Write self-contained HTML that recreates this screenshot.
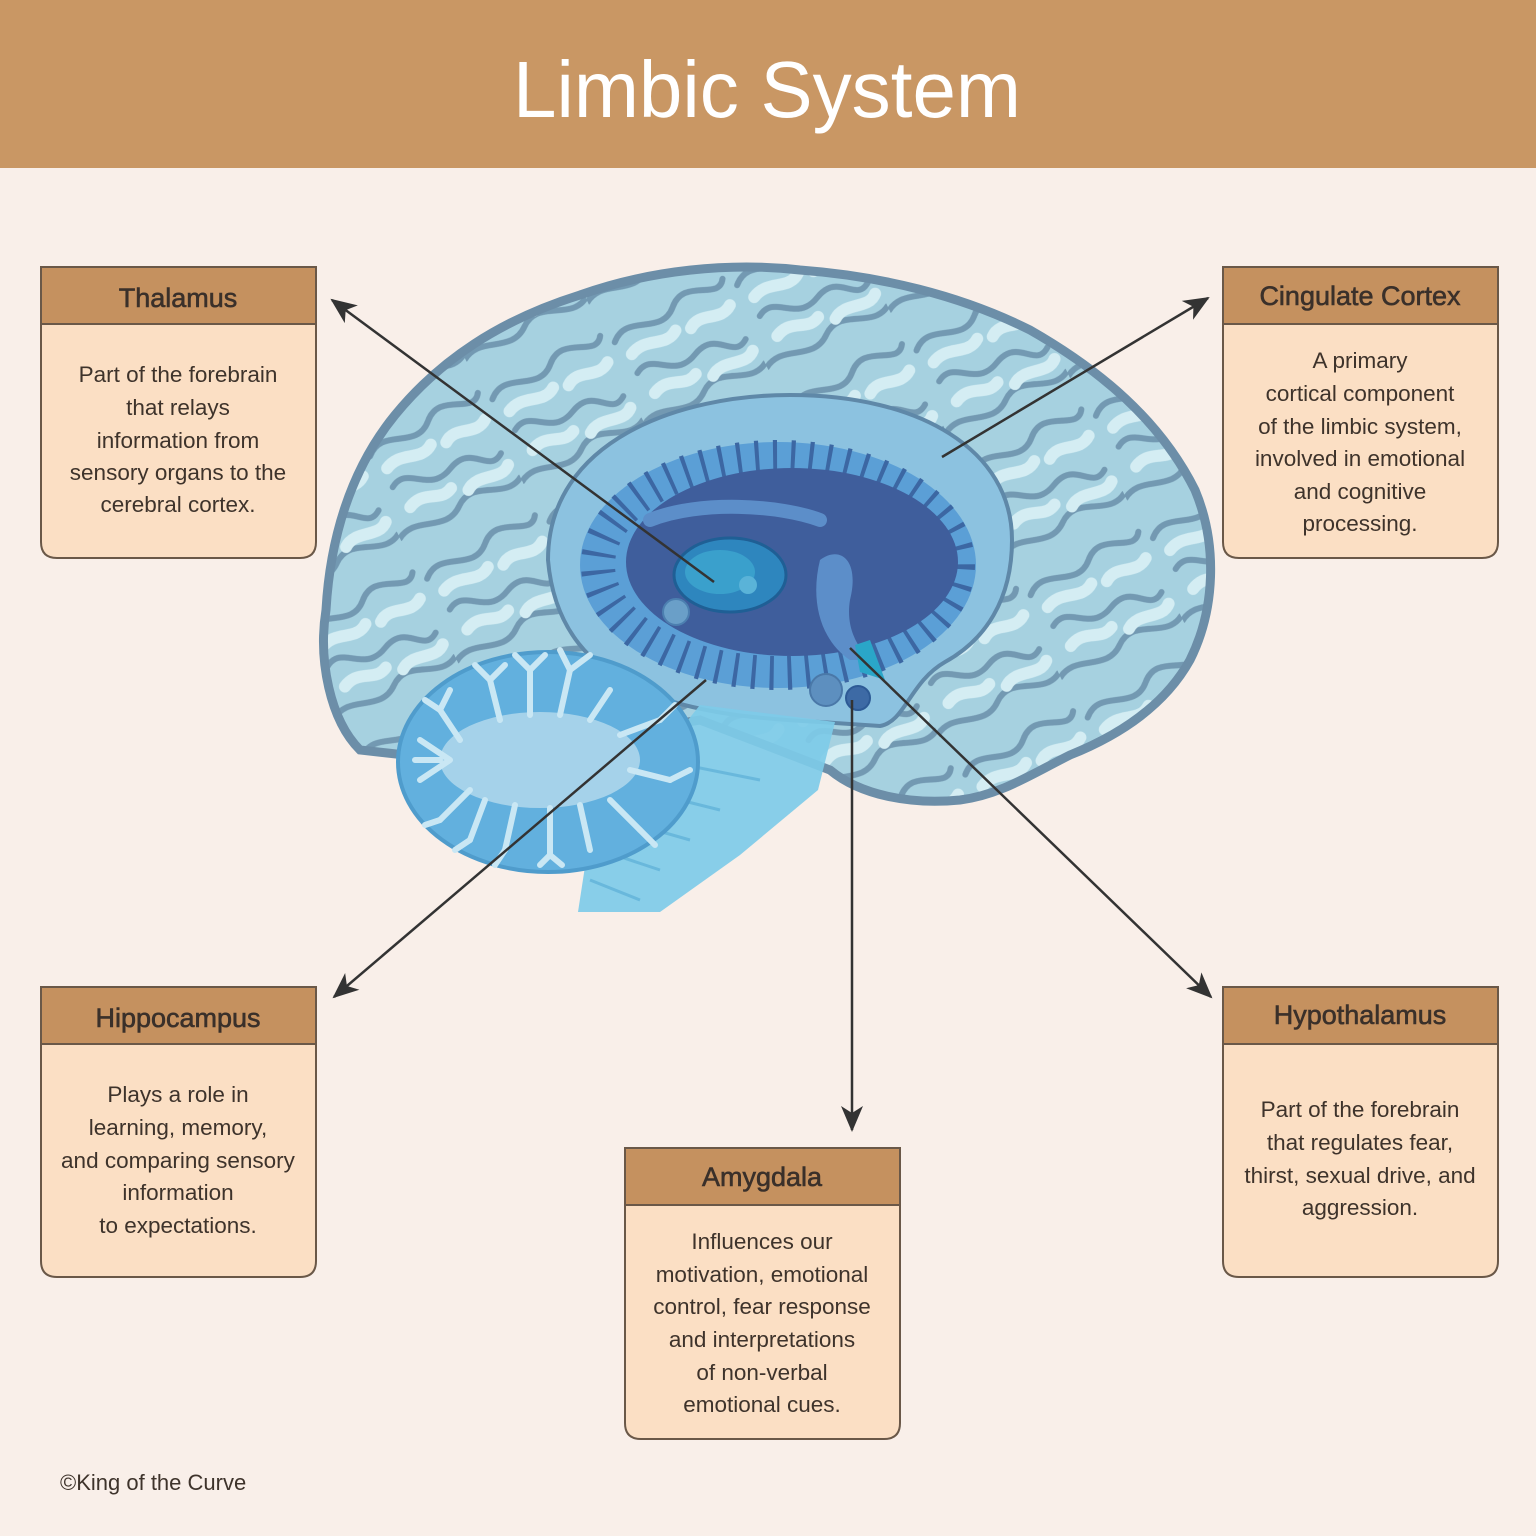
<!DOCTYPE html>
<html><head><meta charset="utf-8"><style>
html,body{margin:0;padding:0;background:#f9efe9;}
svg{display:block;}
text{font-family:"Liberation Sans",sans-serif;}
</style></head><body>
<svg width="1536" height="1536" viewBox="0 0 1536 1536" xmlns="http://www.w3.org/2000/svg">
<defs>
<marker id="ah2" markerWidth="26" markerHeight="26" refX="24" refY="13" orient="auto" markerUnits="userSpaceOnUse" viewBox="0 0 26 26">
<path d="M0,2 L26,13 L0,24 L7,13 Z" fill="#333"/>
</marker>
<clipPath id="brainclip">
<path d="M360,750 C330,720 318,660 326,610 C330,540 350,470 395,415 C440,360 500,320 580,295 C650,270 730,262 800,270 C880,276 960,295 1030,330 C1100,370 1160,420 1195,490 C1218,545 1215,610 1190,660 C1165,705 1120,735 1070,755 C1030,775 1000,795 960,800 C910,805 860,795 830,770 L700,720 L450,760 Z"/>
</clipPath>
<pattern id="gyri" width="90" height="90" patternUnits="userSpaceOnUse" patternTransform="rotate(-25) scale(1.5)">
<g fill="none" stroke-linecap="round">
<path d="M5,20 C20,5 35,30 50,15 C65,0 80,25 88,12" stroke="#7399b2" stroke-width="4"/>
<path d="M10,45 C25,35 30,60 50,50 C70,40 72,65 85,55" stroke="#7399b2" stroke-width="4"/>
<path d="M0,78 C15,68 30,88 45,75 C60,62 75,85 90,75" stroke="#7399b2" stroke-width="4"/>
<path d="M12,32 C25,25 35,38 45,30" stroke="#d4edf3" stroke-width="8"/>
<path d="M55,33 C65,25 75,38 85,30" stroke="#d4edf3" stroke-width="8"/>
<path d="M15,62 C28,55 35,68 45,62" stroke="#d4edf3" stroke-width="8"/>
<path d="M55,68 C65,60 78,72 86,64" stroke="#d4edf3" stroke-width="8"/>
</g>
</pattern>
</defs>
<rect x="0" y="0" width="1536" height="1536" fill="#f9efe9"/>
<rect x="0" y="0" width="1536" height="168" fill="#c99764"/>
<text x="767" y="117" font-size="80" fill="#ffffff" text-anchor="middle" textLength="508" lengthAdjust="spacingAndGlyphs">Limbic System</text>

<path d="M360,750 C330,720 318,660 326,610 C330,540 350,470 395,415 C440,360 500,320 580,295 C650,270 730,262 800,270 C880,276 960,295 1030,330 C1100,370 1160,420 1195,490 C1218,545 1215,610 1190,660 C1165,705 1120,735 1070,755 C1030,775 1000,795 960,800 C910,805 860,795 830,770 L700,720 L450,760 Z" fill="#a6d1e0"/>
<g clip-path="url(#brainclip)">
<rect x="300" y="250" width="940" height="580" fill="url(#gyri)"/>
</g>
<path d="M360,750 C330,720 318,660 326,610 C330,540 350,470 395,415 C440,360 500,320 580,295 C650,270 730,262 800,270 C880,276 960,295 1030,330 C1100,370 1160,420 1195,490 C1218,545 1215,610 1190,660 C1165,705 1120,735 1070,755 C1030,775 1000,795 960,800 C910,805 860,795 830,770 L700,720 L450,760 Z" fill="none" stroke="#6c8ea8" stroke-width="9"/>

<path d="M548,560 C548,440 680,395 790,395 C920,395 1012,450 1012,540 C1012,600 985,640 945,662 C910,682 905,722 880,726 L820,722 C700,716 560,700 548,560 Z" fill="#8cc2e0" stroke="#5f88a8" stroke-width="4"/>
<ellipse cx="778" cy="565" rx="198" ry="123" fill="#5b9fd6"/>
<ellipse cx="778" cy="565" rx="180" ry="108" fill="none" stroke="#3c67a3" stroke-width="34" stroke-dasharray="4 14"/>
<ellipse cx="792" cy="562" rx="166" ry="94" fill="#3f5e9c"/>
<path d="M820,560 C840,545 860,560 850,600 C845,630 860,650 870,660 L850,660 C820,640 810,600 820,560 Z" fill="#5c8ec9"/>
<path d="M650,520 C700,500 780,505 820,520" stroke="#5c8ec9" stroke-width="14" fill="none" stroke-linecap="round"/>
<ellipse cx="730" cy="575" rx="56" ry="37" fill="#2e86be" stroke="#1f5f95" stroke-width="3"/>
<ellipse cx="720" cy="572" rx="35" ry="22" fill="#3aa0cc"/>
<circle cx="748" cy="585" r="9" fill="#5ab3d8"/>
<circle cx="676" cy="612" r="13" fill="#6a9fc8" stroke="#4c7fb0" stroke-width="2"/>
<circle cx="826" cy="690" r="16" fill="#5d8fbf" stroke="#4a78a8" stroke-width="2"/>
<circle cx="858" cy="698" r="12" fill="#3d6aa5" stroke="#2d5a95" stroke-width="2"/>
<path d="M855,645 L870,640 L885,680 L860,672 Z" fill="#2aa6c8"/>

<path d="M700,705 L835,722 L818,790 L740,855 L660,912 L578,912 L586,860 L640,780 Z" fill="#7ecbe8" opacity="0.92"/>
<g stroke="#69b8dc" stroke-width="3">
<line x1="600" y1="850" x2="660" y2="870"/><line x1="620" y1="820" x2="690" y2="840"/><line x1="640" y1="790" x2="720" y2="810"/><line x1="660" y1="760" x2="760" y2="780"/><line x1="590" y1="880" x2="640" y2="900"/>
</g>

<ellipse cx="548" cy="762" rx="150" ry="110" fill="#62b0de" stroke="#4f9ccc" stroke-width="4"/>
<ellipse cx="540" cy="760" rx="100" ry="48" fill="#a5d2ea"/>
<g stroke="#c9e7f4" stroke-width="6" fill="none" stroke-linecap="round">
<path d="M450,760 L420,740 M450,760 L420,780 M460,740 L440,710 M470,790 L440,820 M500,720 L490,680 M530,715 L530,670 M560,715 L570,670 M590,720 L610,690 M620,735 L660,720 M630,770 L670,780 M610,800 L640,830 M580,805 L590,850 M550,808 L550,855 M515,805 L505,850 M485,800 L470,840 M440,760 L415,760"/>
<path d="M530,670 L515,655 M530,670 L545,655 M570,670 L560,650 M570,670 L590,655 M490,680 L475,665 M490,680 L505,665 M440,710 L425,700 M440,710 L450,690 M660,720 L675,705 M670,780 L690,770 M640,830 L655,845 M550,855 L540,865 M550,855 L562,865 M505,850 L495,865 M470,840 L455,850 M440,820 L425,825"/>
</g>

<g stroke="#333" stroke-width="2.5" fill="none">
<line x1="714" y1="582" x2="332" y2="300" marker-end="url(#ah2)"/>
<line x1="942" y1="457" x2="1208" y2="298" marker-end="url(#ah2)"/>
<line x1="706" y1="680" x2="334" y2="997" marker-end="url(#ah2)"/>
<line x1="852" y1="700" x2="852" y2="1130" marker-end="url(#ah2)"/>
<line x1="850" y1="648" x2="1211" y2="997" marker-end="url(#ah2)"/>
</g>

<g stroke="#6a5848" stroke-width="2">
<path d="M41,267 H316 V542 Q316,558 300,558 H57 Q41,558 41,542 Z" fill="#fbdfc4"/>
<rect x="41" y="267" width="275" height="57" fill="#c5915f"/>
<path d="M1223,267 H1498 V542 Q1498,558 1482,558 H1239 Q1223,558 1223,542 Z" fill="#fbdfc4"/>
<rect x="1223" y="267" width="275" height="57" fill="#c5915f"/>
<path d="M41,987 H316 V1261 Q316,1277 300,1277 H57 Q41,1277 41,1261 Z" fill="#fbdfc4"/>
<rect x="41" y="987" width="275" height="57" fill="#c5915f"/>
<path d="M1223,987 H1498 V1261 Q1498,1277 1482,1277 H1239 Q1223,1277 1223,1261 Z" fill="#fbdfc4"/>
<rect x="1223" y="987" width="275" height="57" fill="#c5915f"/>
<path d="M625,1148 H900 V1423 Q900,1439 884,1439 H641 Q625,1439 625,1423 Z" fill="#fbdfc4"/>
<rect x="625" y="1148" width="275" height="57" fill="#c5915f"/>
</g>

<g fill="#3a302a" text-anchor="middle" font-size="27" stroke="#3a302a" stroke-width="0.6">
<text x="178" y="307">Thalamus</text>
<text x="1360" y="305">Cingulate Cortex</text>
<text x="178" y="1027">Hippocampus</text>
<text x="1360" y="1024">Hypothalamus</text>
<text x="762" y="1186">Amygdala</text>
</g>
<g fill="#3e332b" text-anchor="middle" font-size="22.5">
<text x="178" y="382">Part of the forebrain</text>
<text x="178" y="415">that relays</text>
<text x="178" y="448">information from</text>
<text x="178" y="480">sensory organs to the</text>
<text x="178" y="512">cerebral cortex.</text>

<text x="1360" y="368">A primary</text>
<text x="1360" y="401">cortical component</text>
<text x="1360" y="434">of the limbic system,</text>
<text x="1360" y="466">involved in emotional</text>
<text x="1360" y="499">and cognitive</text>
<text x="1360" y="531">processing.</text>

<text x="178" y="1102">Plays a role in</text>
<text x="178" y="1135">learning, memory,</text>
<text x="178" y="1168">and comparing sensory</text>
<text x="178" y="1200">information</text>
<text x="178" y="1233">to expectations.</text>

<text x="762" y="1249">Influences our</text>
<text x="762" y="1282">motivation, emotional</text>
<text x="762" y="1314">control, fear response</text>
<text x="762" y="1347">and interpretations</text>
<text x="762" y="1380">of non-verbal</text>
<text x="762" y="1412">emotional cues.</text>

<text x="1360" y="1117">Part of the forebrain</text>
<text x="1360" y="1150">that regulates fear,</text>
<text x="1360" y="1183">thirst, sexual drive, and</text>
<text x="1360" y="1215">aggression.</text>
</g>
<text x="60" y="1490" font-size="22" fill="#3e332b">©King of the Curve</text>
</svg>
</body></html>
